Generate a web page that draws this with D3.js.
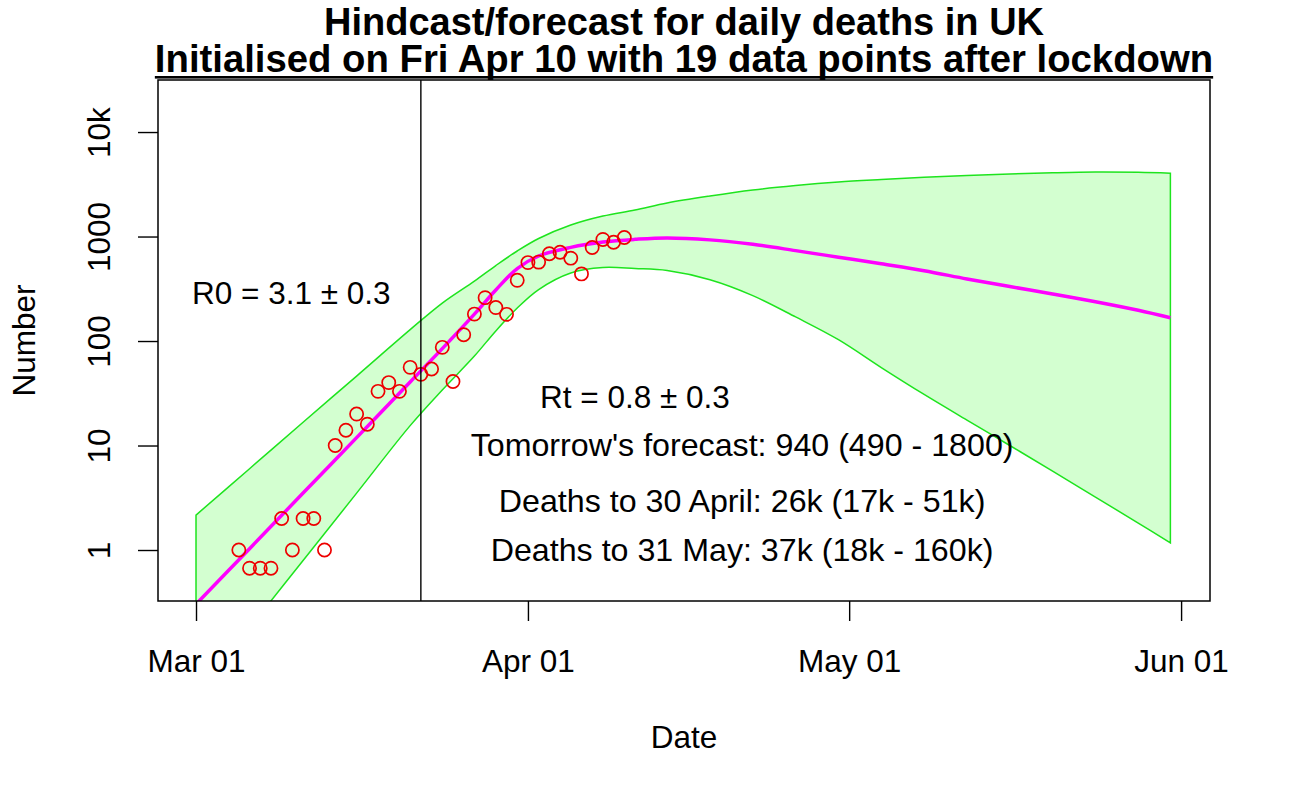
<!DOCTYPE html>
<html>
<head>
<meta charset="utf-8">
<script src="https://cdn.jsdelivr.net/npm/d3@7"></script>
<style>
  html, body { margin: 0; padding: 0; background: #ffffff; }
  text { font-family: "Liberation Sans", Arial, Helvetica, sans-serif; fill: #000; }
</style>
</head>
<body>
<svg id="chart" width="1290" height="797"></svg>
<script>
// ---------------- data ----------------
// day index counted from 1 March 2020 (0 = Mar 01)
const obsDays   = [4, 5, 6, 7, 8, 9, 10, 11, 12, 13, 14, 15, 16, 17, 18, 19, 20, 21, 22, 23, 24, 25, 26, 27, 28, 29, 30, 31, 32, 33, 34, 35, 36, 37, 38, 39, 40];
const obsDeaths = [1, 0.67, 0.67, 0.67, 2, 1, 2, 2, 1, 10, 14, 20, 16, 33, 40, 33, 56, 48, 54, 87, 41, 115, 181, 260, 209, 180, 381, 563, 569, 684, 708, 621, 439, 786, 938, 881, 980];

const fcDays    = [0, 5, 10, 15, 20, 23, 26, 28, 30, 32, 35, 38, 41, 44, 48, 52, 56, 60, 64, 68, 72, 76, 80, 84, 88, 91];
const fcCentral = [0.303, 1.03, 3.51, 11.9, 40.6, 84.6, 181, 308, 494, 651, 788, 886, 940, 970, 929, 842, 733, 634, 548, 471, 393, 332, 282, 238, 197, 167];
const fcUpper   = [2.16, 6.0, 16.7, 46.2, 128.5, 231, 375, 528, 727, 957, 1288, 1570, 1795, 2093, 2441, 2788, 3076, 3324, 3511, 3686, 3838, 3965, 4073, 4143, 4113, 4027];
const fcLower   = [0.041, 0.18, 0.794, 3.5, 15.5, 34, 71.8, 125, 207, 311, 448, 505, 494, 473, 386, 272, 170, 103, 55.7, 30.8, 17.5, 10.0, 5.70, 3.21, 1.81, 1.17];

const lockdownDay = 21;
const xTickDays   = [0, 31, 61, 92];
const xTickLabels = ["Mar 01", "Apr 01", "May 01", "Jun 01"];
const yTickValues = [1, 10, 100, 1000, 10000];
const yTickLabels = ["1", "10", "100", "1000", "10k"];

const titleLines = ["Hindcast/forecast for daily deaths in UK",
                    "Initialised on Fri Apr 10 with 19 data points after lockdown"];
const xTitle = "Date";
const yTitle = "Number";
const notes = [
  {day: 8.9,  value: 290,   size: 31.5, text: "R0 = 3.1 \u00b1 0.3"},
  {day: 41.0, value: 29.1,  size: 31.5, text: "Rt = 0.8 \u00b1 0.3"},
  {day: 51.0, value: 10.35, size: 32.2, text: "Tomorrow's forecast: 940 (490 - 1800)"},
  {day: 51.0, value: 3.0,   size: 32.2, text: "Deaths to 30 April: 26k (17k - 51k)"},
  {day: 51.0, value: 1.01,  size: 32.2, text: "Deaths to 31 May: 37k (18k - 160k)"}
];

// ---------------- layout ----------------
const base = Date.UTC(2020, 2, 1);
const DAY = 86400000;
const toDate = d => new Date(base + d * DAY);

const plot = {left: 158, right: 1210, top: 80, bottom: 601};

const x = d3.scaleUtc()
  .domain([toDate(-3.55), toDate(94.7)])
  .range([plot.left, plot.right]);
const y = d3.scaleLog()
  .domain([Math.pow(10, -0.488), Math.pow(10, 4.498)])
  .range([plot.bottom, plot.top]);

const svg = d3.select("#chart");
svg.append("rect").attr("width", 1290).attr("height", 797).attr("fill", "#fff");

svg.append("defs").append("clipPath").attr("id", "clip")
  .append("rect")
  .attr("x", plot.left).attr("y", plot.top)
  .attr("width", plot.right - plot.left).attr("height", plot.bottom - plot.top);

const g = svg.append("g").attr("clip-path", "url(#clip)");

const curve = d3.curveCatmullRom.alpha(0.5);

// band
const band = fcDays.map((d, i) => ({date: toDate(d), lo: fcLower[i], hi: fcUpper[i], c: fcCentral[i]}));
const area = d3.area()
  .x(d => x(d.date)).y0(d => y(d.lo)).y1(d => y(d.hi))
  .curve(curve);
g.append("path").datum(band)
  .attr("d", area)
  .attr("fill", "#d3ffd0")
  .attr("stroke", "#1ee41e")
  .attr("stroke-width", 1.5);

// central line
const line = d3.line().x(d => x(d.date)).y(d => y(d.c)).curve(curve);
g.append("path").datum(band)
  .attr("d", line)
  .attr("fill", "none")
  .attr("stroke", "#ff00ff")
  .attr("stroke-width", 3.5);

// observations
g.selectAll("circle.obs").data(obsDays.map((d, i) => ({date: toDate(d), v: obsDeaths[i]})))
  .join("circle")
  .attr("class", "obs")
  .attr("cx", d => x(d.date)).attr("cy", d => y(d.v))
  .attr("r", 6.6)
  .attr("fill", "none")
  .attr("stroke", "#ee0000")
  .attr("stroke-width", 1.7);

// lockdown line
svg.append("line")
  .attr("x1", x(toDate(lockdownDay))).attr("x2", x(toDate(lockdownDay)))
  .attr("y1", plot.top).attr("y2", plot.bottom)
  .attr("stroke", "#000").attr("stroke-width", 1.4);

// box
svg.append("rect")
  .attr("x", plot.left).attr("y", plot.top)
  .attr("width", plot.right - plot.left).attr("height", plot.bottom - plot.top)
  .attr("fill", "none").attr("stroke", "#000").attr("stroke-width", 1.5);

// x axis
const xAxis = d3.axisBottom(x)
  .tickValues(xTickDays.map(toDate))
  .tickFormat((d, i) => xTickLabels[i])
  .tickSize(20).tickSizeOuter(0);
const xg = svg.append("g").attr("transform", `translate(0,${plot.bottom})`).call(xAxis);
xg.select(".domain").remove();
xg.selectAll(".tick line").attr("stroke", "#000").attr("stroke-width", 1.4);
xg.selectAll(".tick text")
  .attr("y", 71).attr("dy", null)
  .attr("font-size", 31.5)
  .attr("font-family", "Liberation Sans, Arial, sans-serif")
  .attr("fill", "#000");

// y axis
const yAxis = d3.axisLeft(y)
  .tickValues(yTickValues)
  .tickFormat((d, i) => yTickLabels[i])
  .tickSize(20).tickSizeOuter(0);
const yg = svg.append("g").attr("transform", `translate(${plot.left},0)`).call(yAxis);
yg.select(".domain").remove();
yg.selectAll(".tick line").attr("stroke", "#000").attr("stroke-width", 1.4);
yg.selectAll(".tick text")
  .attr("x", null).attr("dy", null).attr("y", null)
  .attr("transform", "translate(-48,0) rotate(-90)")
  .attr("text-anchor", "middle")
  .attr("font-size", 31.5)
  .attr("font-family", "Liberation Sans, Arial, sans-serif")
  .attr("fill", "#000");

// axis titles
svg.append("text")
  .attr("x", (plot.left + plot.right) / 2).attr("y", 748)
  .attr("text-anchor", "middle").attr("font-size", 31.5)
  .text(xTitle);
svg.append("text")
  .attr("transform", `translate(35,${(plot.top + plot.bottom) / 2}) rotate(-90)`)
  .attr("text-anchor", "middle").attr("font-size", 31.5)
  .text(yTitle);

// title (one text element, two lines, second underlined)
const cx = (plot.left + plot.right) / 2;
const title = svg.append("text")
  .attr("text-anchor", "middle").attr("font-size", 38).attr("font-weight", "bold");
title.append("tspan").attr("x", cx).attr("y", 34.5).text(titleLines[0]);
const t2 = title.append("tspan").attr("x", cx).attr("y", 71.5).attr("font-size", 38.3).text(titleLines[1]);
const w2 = t2.node().getComputedTextLength();
svg.append("rect")
  .attr("x", cx - w2 / 2).attr("y", 76)
  .attr("width", w2).attr("height", 2.6)
  .attr("fill", "#000");

// annotations (text centred at the given data position, like R text())
svg.selectAll("text.note").data(notes)
  .join("text")
  .attr("class", "note")
  .attr("x", d => x(toDate(d.day)))
  .attr("y", d => y(d.value))
  .attr("dy", "0.36em")
  .attr("text-anchor", "middle")
  .attr("font-size", d => d.size)
  .text(d => d.text);
</script>
</body>
</html>
